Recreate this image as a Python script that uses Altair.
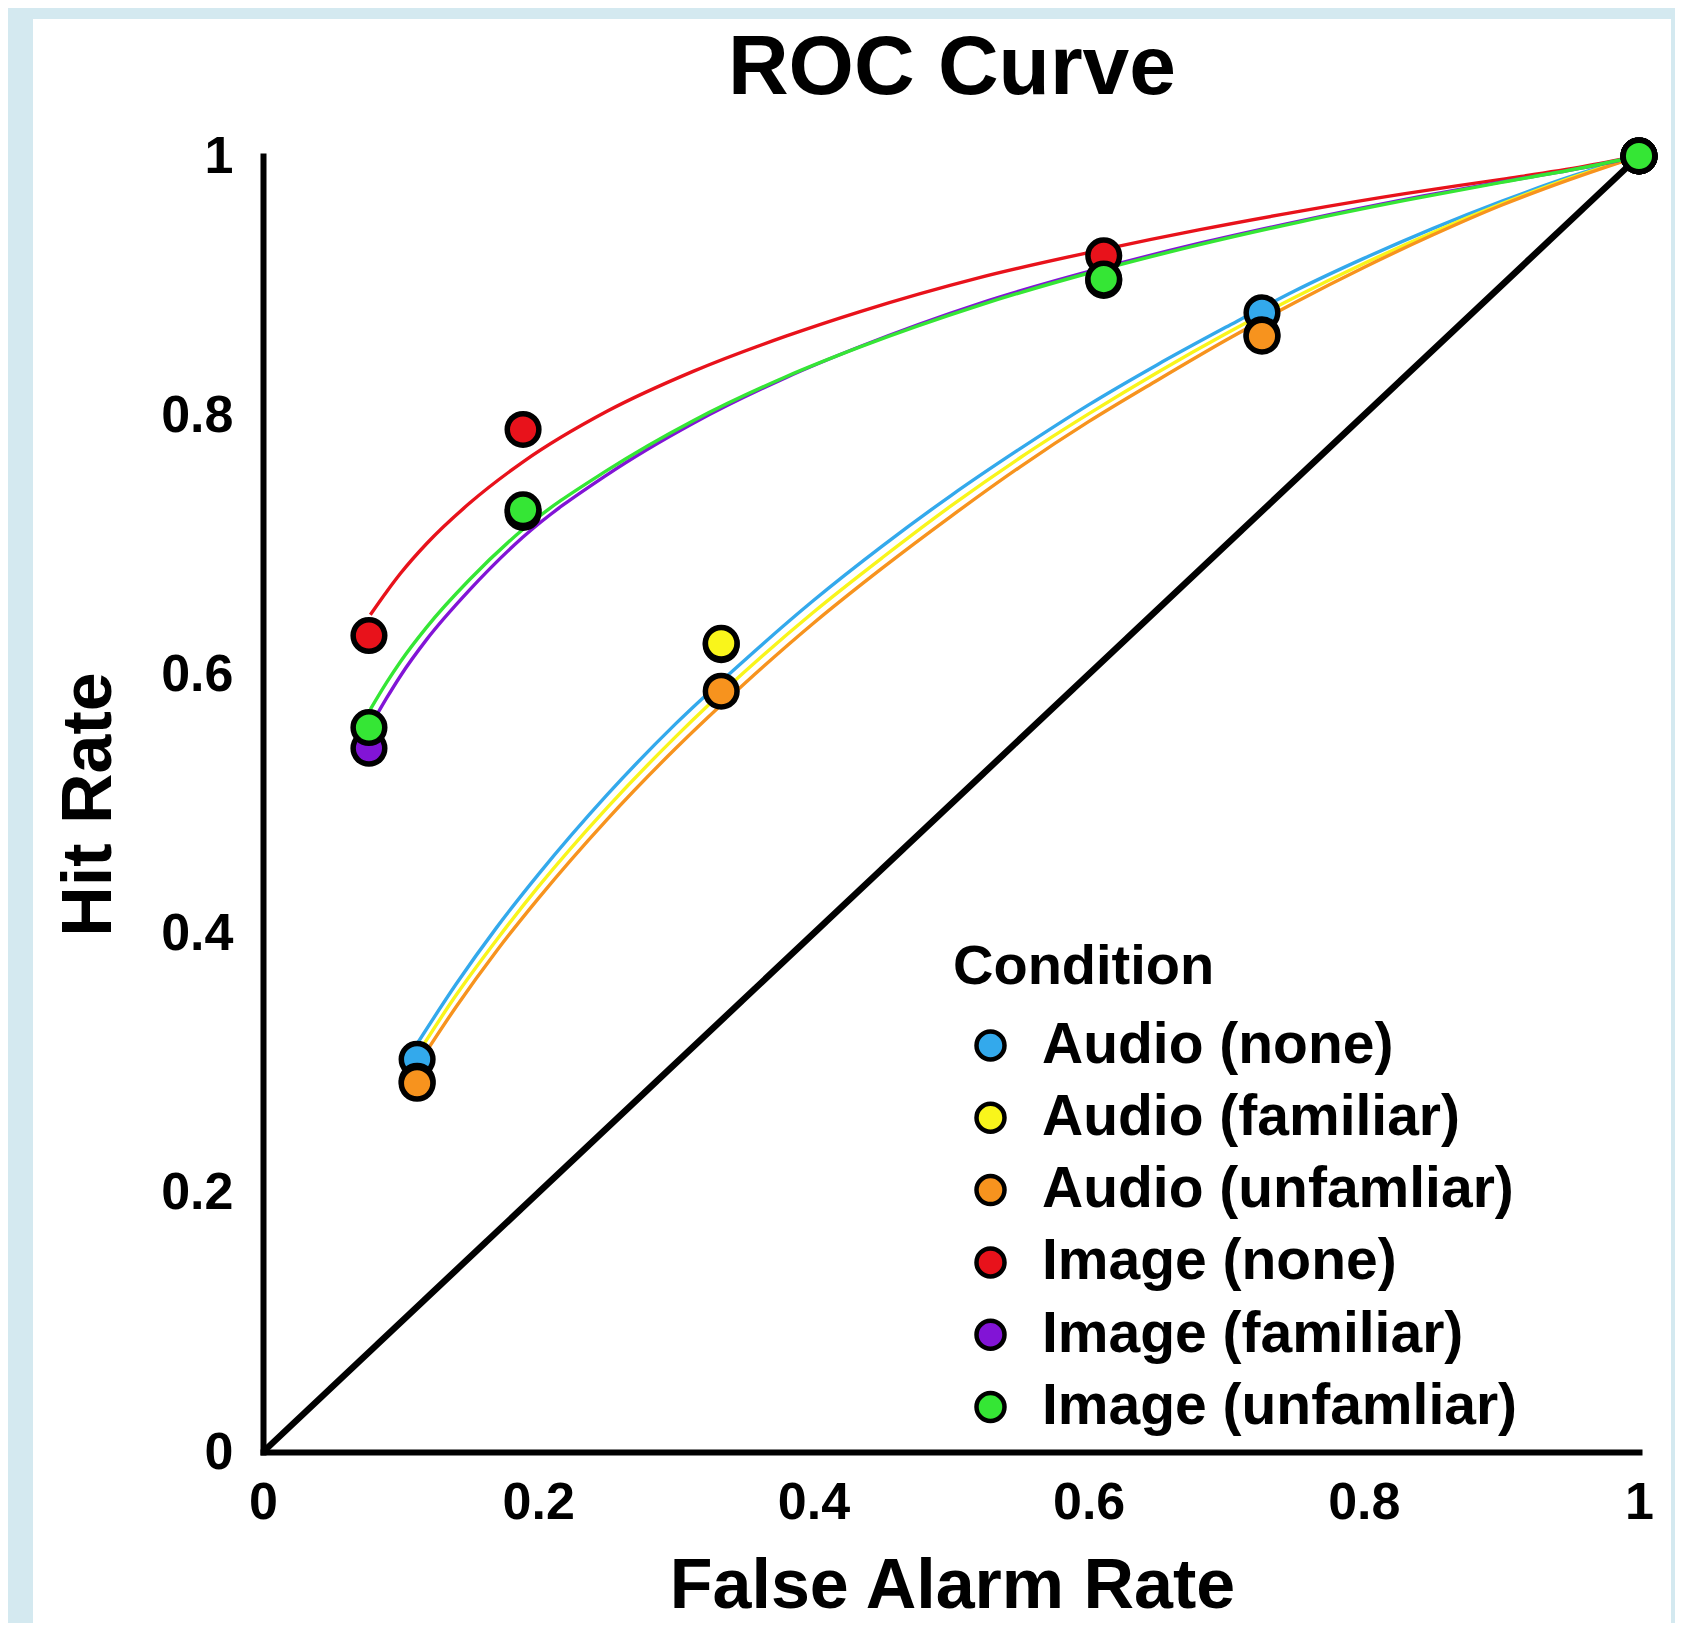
import altair as alt
import pandas as pd

FONT = "Liberation Sans"

conditions = ["Audio (none)", "Audio (familiar)", "Audio (unfamliar)",
              "Image (none)", "Image (familiar)", "Image (unfamliar)"]
colors = ["#33a9ec", "#f9f51b", "#f7931e", "#e8121b", "#8214d6", "#35e635"]

# observed points (false alarm rate, hit rate)
points_fa_audio = [0.112, 0.333, 0.726, 1.0]
points_fa_image = [0.077, 0.189, 0.611, 1.0]
hits_audio_none = [0.303, 0.623, 0.879, 1.0]
hits_audio_familiar = [0.286, 0.624, 0.862, 1.0]
hits_audio_unfamiliar = [0.2845, 0.587, 0.861, 1.0]
hits_image_none = [0.630, 0.789, 0.923, 1.0]
hits_image_familiar = [0.543, 0.725, 0.904, 1.0]
hits_image_unfamiliar = [0.559, 0.727, 0.905, 1.0]

# fitted curves
curve_fa_audio = [0.112, 0.14, 0.17, 0.20, 0.25, 0.30, 0.35, 0.40, 0.45, 0.50,
                  0.55, 0.60, 0.65, 0.70, 0.75, 0.80, 0.85, 0.90, 0.95, 1.0]
curve_audio_none = [0.315, 0.3605, 0.405, 0.4455, 0.507, 0.562, 0.611, 0.657, 0.699, 0.738,
                    0.774, 0.808, 0.839, 0.868, 0.896, 0.921, 0.944, 0.965, 0.984, 1.0]
curve_audio_familiar = [0.3065, 0.352, 0.3955, 0.436, 0.497, 0.552, 0.602, 0.648, 0.690, 0.730,
                        0.767, 0.801, 0.833, 0.863, 0.891, 0.917, 0.941, 0.963, 0.983, 1.0]
curve_audio_unfamiliar = [0.298, 0.343, 0.387, 0.427, 0.488, 0.543, 0.593, 0.6395, 0.682, 0.722,
                          0.760, 0.795, 0.827, 0.858, 0.887, 0.914, 0.939, 0.962, 0.982, 1.0]

curve_fa_image = [0.078, 0.09, 0.10, 0.119, 0.15, 0.189, 0.25, 0.313, 0.38, 0.434,
                  0.52, 0.611, 0.68, 0.754, 0.83, 0.90, 0.96, 1.0]
curve_image_none = [0.646, 0.664, 0.678, 0.701, 0.732, 0.764, 0.803, 0.834, 0.861, 0.880,
                    0.906, 0.928, 0.943, 0.9575, 0.971, 0.982, 0.992, 1.0]
curve_image_familiar = [0.560, 0.582, 0.599, 0.627, 0.665, 0.706, 0.754, 0.794, 0.829, 0.853,
                        0.886, 0.914, 0.9325, 0.950, 0.9665, 0.980, 0.991, 1.0]
curve_image_unfamiliar = [0.573, 0.594, 0.610, 0.6365, 0.673, 0.712, 0.7574, 0.796, 0.8297, 0.8527,
                          0.8846, 0.9128, 0.9314, 0.9492, 0.9657, 0.9797, 0.9911, 1.0]

chance_x = [0.0, 1.0]
chance_y = [0.0, 1.0]
tick_values = [0, 0.2, 0.4, 0.6, 0.8, 1]

pt_sets = [
    (conditions[0], points_fa_audio, hits_audio_none),
    (conditions[1], points_fa_audio, hits_audio_familiar),
    (conditions[2], points_fa_audio, hits_audio_unfamiliar),
    (conditions[3], points_fa_image, hits_image_none),
    (conditions[4], points_fa_image, hits_image_familiar),
    (conditions[5], points_fa_image, hits_image_unfamiliar),
]
cv_sets = [
    (conditions[0], curve_fa_audio, curve_audio_none),
    (conditions[1], curve_fa_audio, curve_audio_familiar),
    (conditions[2], curve_fa_audio, curve_audio_unfamiliar),
    (conditions[3], curve_fa_image, curve_image_none),
    (conditions[4], curve_fa_image, curve_image_familiar),
    (conditions[5], curve_fa_image, curve_image_unfamiliar),
]

pts = pd.DataFrame([
    {"Condition": c, "order": i * 10 + j, "fa": f, "hit": h}
    for i, (c, fas, hs) in enumerate(pt_sets)
    for j, (f, h) in enumerate(zip(fas, hs))
])
chance = pd.DataFrame({"fa": chance_x, "hit": chance_y})

W, H = 1376, 1296

x_enc = alt.X("fa:Q", scale=alt.Scale(domain=[0, 1], nice=False),
              axis=alt.Axis(values=tick_values, format="~g", title="False Alarm Rate",
                            grid=False, ticks=False, domainColor="black", domainWidth=6,
                            domainCap="square", labelFont=FONT, labelFontSize=52,
                            labelFontWeight="bold", labelColor="black", labelPadding=25,
                            labelFlush=False, labelOverlap=False, labelBound=False,
                            titleFont=FONT, titleFontSize=70, titleFontWeight="bold",
                            titleColor="black", titleX=689, titleY=155,
                            titleBaseline="alphabetic", titleAlign="center", zindex=1))
y_enc = alt.Y("hit:Q", scale=alt.Scale(domain=[0, 1], nice=False),
              axis=alt.Axis(values=tick_values, format="~g", title="Hit Rate",
                            grid=False, ticks=False, domainColor="black", domainWidth=6,
                            domainCap="square", labelFont=FONT, labelFontSize=52,
                            labelFontWeight="bold", labelColor="black", labelPadding=30,
                            labelFlush=False, labelOverlap=False, labelBound=False,
                            titleFont=FONT, titleFontSize=70, titleFontWeight="bold",
                            titleColor="black", titleX=-153, titleY=648,
                            titleBaseline="alphabetic", titleAlign="center", zindex=1))

panel = alt.Chart(alt.Data(values=[{"a": 1}])).mark_rect(color="white").encode(
    x=alt.value(-230), x2=alt.value(1408), y=alt.value(-137), y2=alt.value(1480)
)

diag = alt.Chart(chance).mark_line(color="black", strokeWidth=6.5).encode(
    x=x_enc, y=y_enc
)

line_layers = []
for (c, fas, hs), col in zip(cv_sets, colors):
    df = pd.DataFrame({"fa": fas, "hit": hs})
    line_layers.append(
        alt.Chart(df).mark_line(color=col, strokeWidth=3.4, interpolate="monotone").encode(
            x=x_enc, y=y_enc
        )
    )

dots = alt.Chart(pts).mark_circle(size=1000, stroke="black", strokeWidth=5.5, opacity=1).encode(
    x=x_enc, y=y_enc,
    fill=alt.Fill("Condition:N", scale=alt.Scale(domain=conditions, range=colors),
                  legend=alt.Legend(title="Condition", orient="none", legendX=690, legendY=784,
                                    titleFont=FONT, titleFontSize=56, titleFontWeight="bold",
                                    titleColor="black", titleLimit=2000,
                                    labelFont=FONT, labelFontSize=57,
                                    labelFontWeight="bold", labelColor="black", labelLimit=2000,
                                    symbolType="circle", symbolSize=784, symbolStrokeColor="black",
                                    symbolStrokeWidth=4.5, symbolOpacity=1, symbolOffset=9,
                                    labelOffset=23, rowPadding=14.3, titlePadding=21, padding=0,
                                    zindex=1)),
    order=alt.Order("order:Q"),
)

title = alt.Chart(alt.Data(values=[{"t": "ROC Curve"}])).mark_text(
    font=FONT, fontSize=84, fontWeight="bold", color="black", align="center", baseline="alphabetic"
).encode(text="t:N", x=alt.value(689), y=alt.value(-62))

chart = alt.layer(panel, diag, *line_layers, dots, title).properties(
    width=W, height=H,
    autosize=alt.AutoSizeParams(type="none"),
    padding={"left": 255, "top": 148, "right": 36, "bottom": 171},
    background="#d4e9f0",
).configure_view(stroke=None)

chart.save("out.html", embed_options={"renderer": "svg", "actions": False})
